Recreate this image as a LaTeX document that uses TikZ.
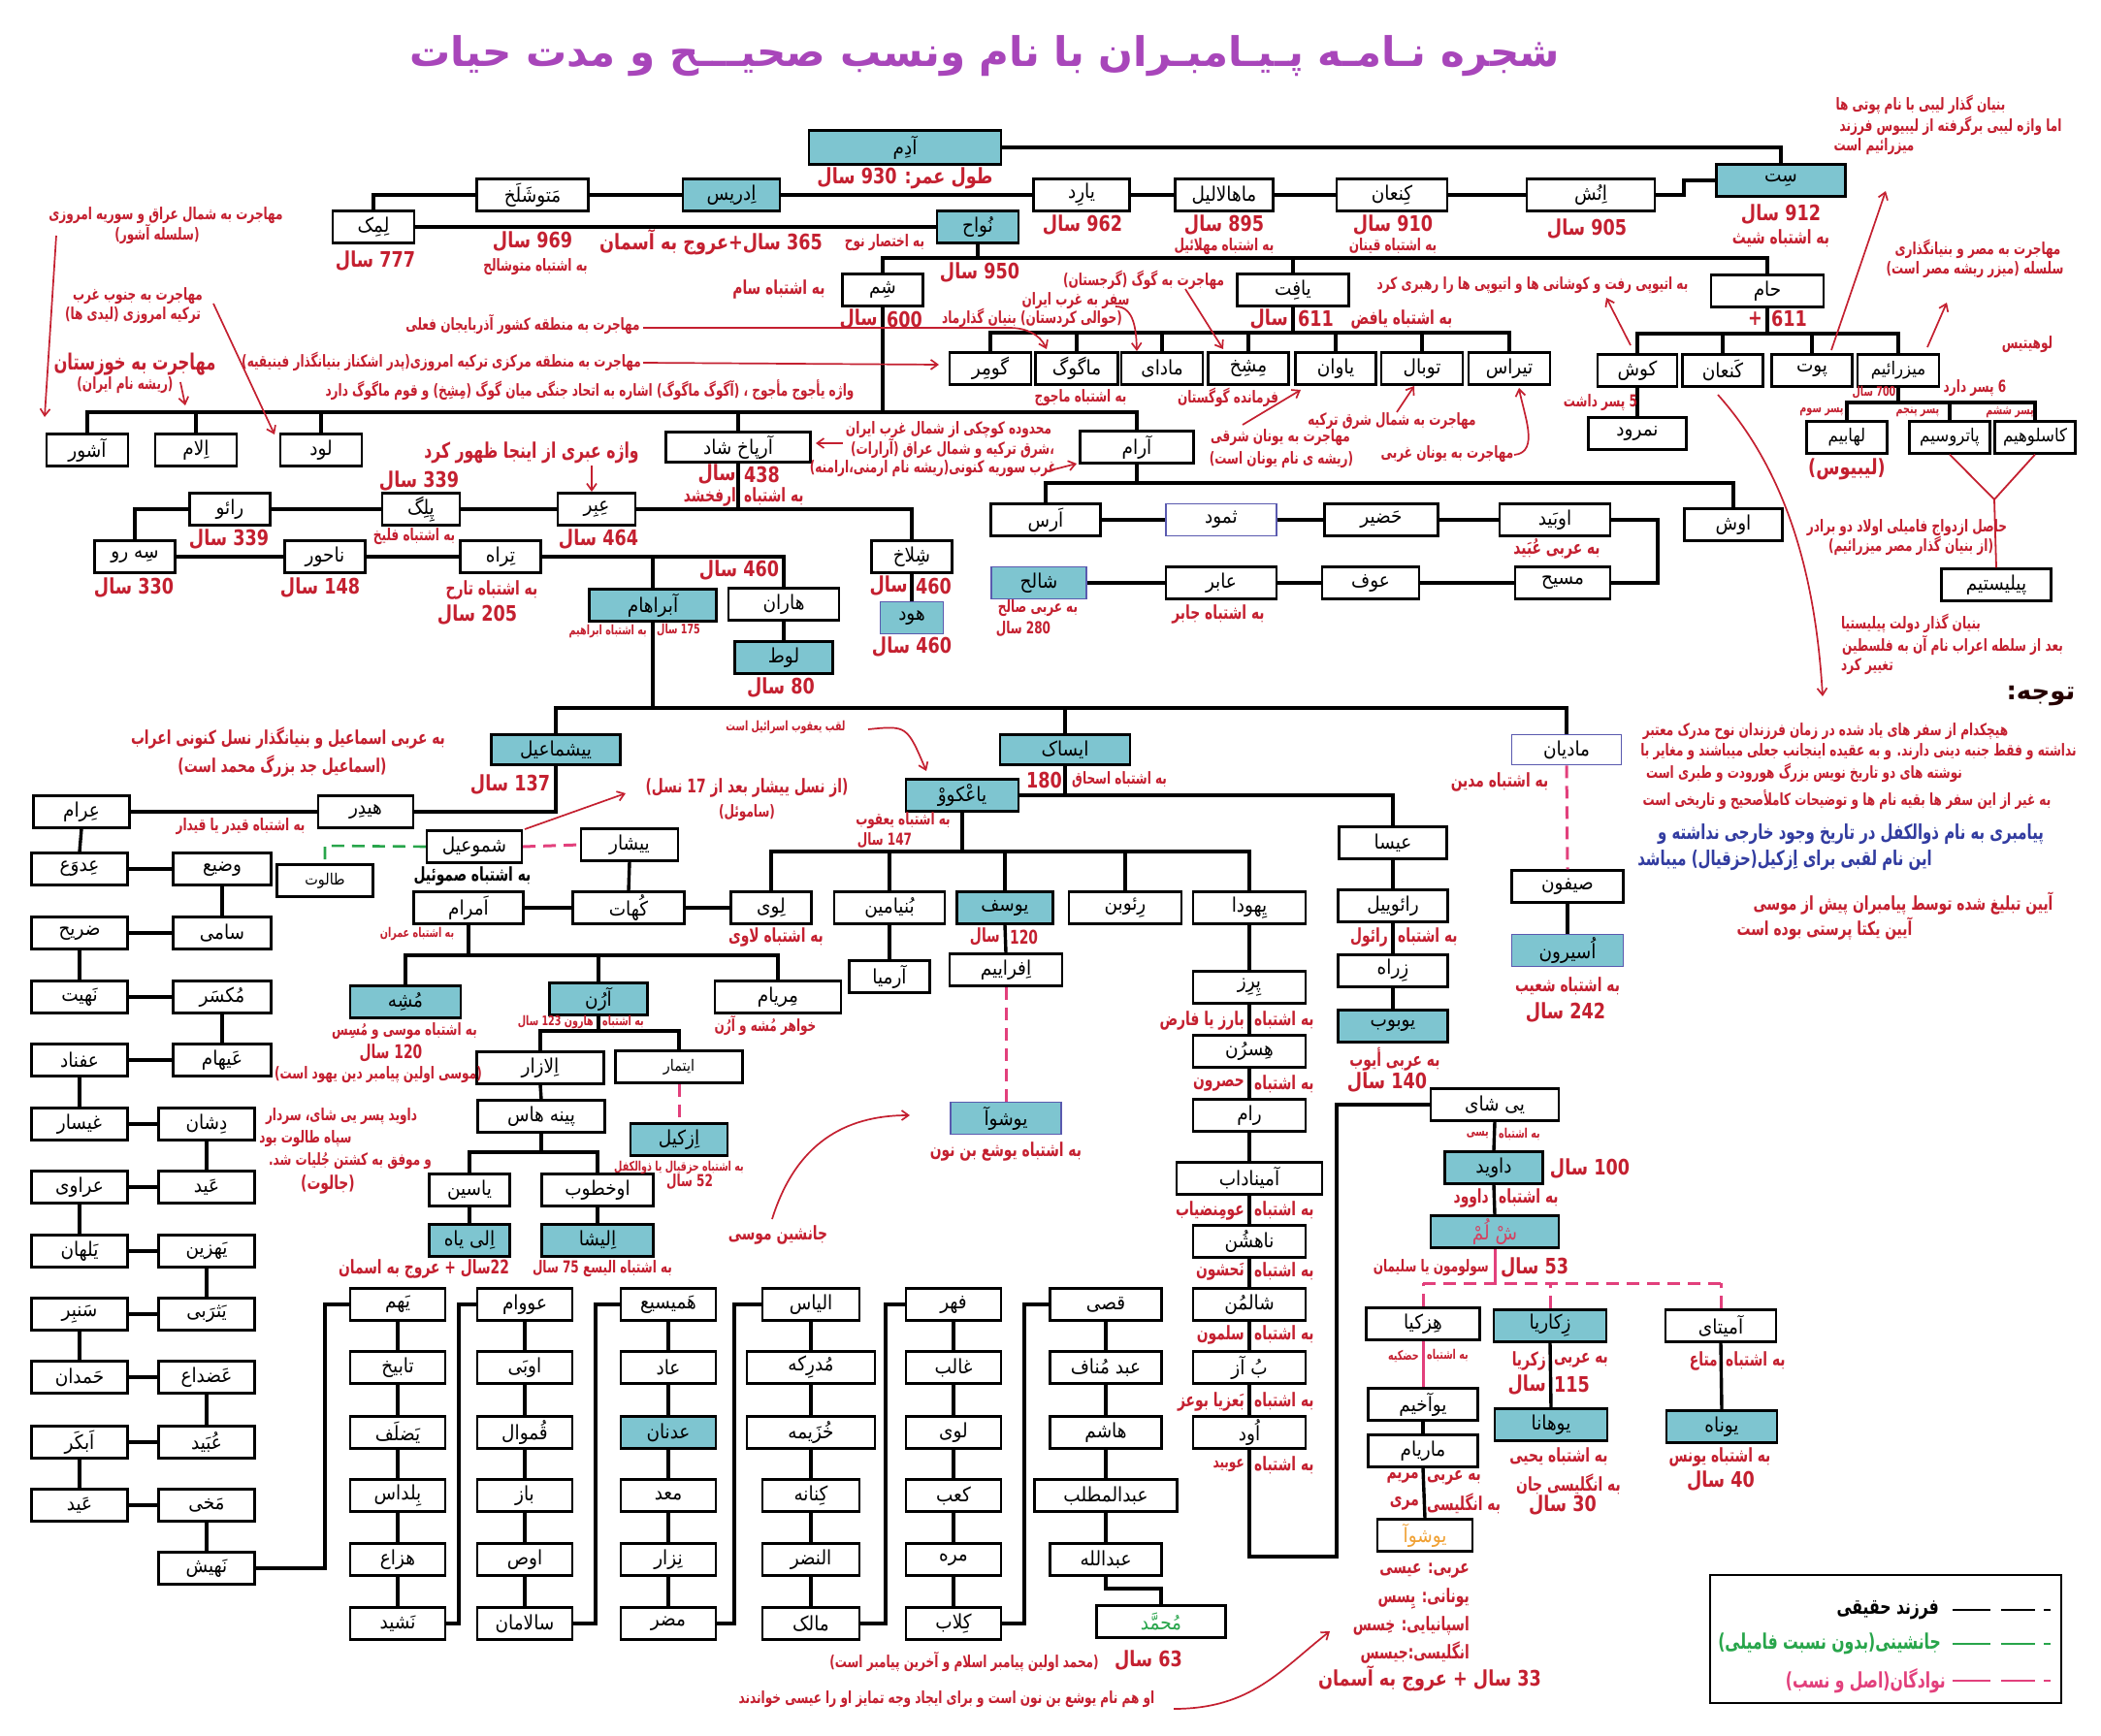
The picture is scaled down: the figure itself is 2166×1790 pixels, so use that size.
\documentclass[tikz,border=0pt]{standalone}
\usepackage{fontspec}
\usetikzlibrary{arrows.meta}
\TeXXeTstate=1
\newfontfamily\arabicfont[Script=Arabic]{DejaVu Sans}
\newfontfamily\arabicnarrow[Script=Arabic,FakeStretch=0.8]{DejaVu Sans}
\newfontfamily\arabictight[Script=Arabic,FakeStretch=0.71]{DejaVu Sans}
\newfontfamily\arabicname[Script=Arabic,FakeStretch=0.9]{DejaVu Sans}
\definecolor{tealc}{RGB}{126,197,208}
\definecolor{annred}{RGB}{196,32,48}
\definecolor{titlec}{RGB}{168,70,186}
\definecolor{bluet}{RGB}{50,60,160}
\definecolor{bluebd}{RGB}{90,90,175}
\definecolor{pinkc}{RGB}{226,64,124}
\definecolor{greenc}{RGB}{40,165,75}
\definecolor{orangec}{RGB}{240,160,50}
\definecolor{shlc}{RGB}{214,64,96}
\newcommand\fN{\arabicname\fontsize{20.5}{23}\selectfont}
\newcommand\fNs{\arabicname\fontsize{16}{18}\selectfont}
\newcommand\fNt{\arabicname\fontsize{18.5}{20}\selectfont}
\newcommand\fS{\arabictight\bfseries\fontsize{17}{19}\selectfont}
\newcommand\fM{\arabictight\bfseries\fontsize{19.5}{21}\selectfont}
\newcommand\fB{\arabicnarrow\bfseries\fontsize{22}{24}\selectfont}
\newcommand\fT{\arabictight\bfseries\fontsize{13.5}{15}\selectfont}
\newcommand\fTitle{\arabicfont\bfseries\fontsize{42}{48}\selectfont}
\newcommand\bxx[6][bx]{\node[#1,minimum width=#5pt] (#2) at (#3,#4) {#6};}
\newcommand\lbl[4]{\node[#1] (#2) at (#3) {#4};}
\tikzset{
 bx/.style={draw=black,line width=2.2pt,fill=white,minimum height=33pt,inner sep=0pt,font=\fN},
 tl/.style={bx,fill=tealc},
 bb/.style={bx,draw=bluebd,line width=1.6pt},
 tb/.style={bx,fill=tealc,draw=bluebd,line width=1.8pt},
 aS/.style={text=annred,inner sep=0pt,font=\fS},
 aM/.style={text=annred,inner sep=0pt,font=\fM},
 aB/.style={text=annred,inner sep=0pt,font=\fB},
 aT/.style={text=annred,inner sep=0pt,font=\fT},
 link/.style={line width=3.4pt,line join=miter},
 rarr/.style={draw=annred,line width=1.7pt,-{Straight Barb[length=7pt,width=10pt]}},
 rline/.style={draw=annred,line width=1.8pt},
 pdash/.style={draw=pinkc,line width=3pt,dash pattern=on 13pt off 8pt},
 gdash/.style={draw=greenc,line width=2.6pt,dash pattern=on 13pt off 8pt},
}
\begin{document}
\begin{tikzpicture}[x=1pt,y=-1pt]
\fill[white] (0,0) rectangle (2166,1790);
\useasboundingbox (0,0) rectangle (2166,1790);
\node[font=\fTitle,text=titlec,inner sep=0pt] (title) at (1015,58) {\beginR شجره نـامـه پـیـامبـران با نام ونسب صحیـــح و مدت حیات\endR};
% ---------- boxes top ----------
\bxx[tl,minimum height=35pt]{adam}{933}{152}{198}{\beginR آدِم\endR}
\bxx[tl]{idris}{754}{201}{100}{\beginR اِدریس\endR}
\bxx{mtsh}{549}{201}{115}{\beginR مَتوشَلَخ\endR}
\bxx{lamak}{385}{234}{84}{\beginR لِمِک\endR}
\bxx{yard}{1115}{201}{99}{\beginR یارِد\endR}
\bxx{mahal}{1262}{201}{101}{\beginR ماهالالیل\endR}
\bxx{kenan}{1435}{201}{114}{\beginR کِنعان\endR}
\bxx{enosh}{1640}{201}{132}{\beginR اِنُش\endR}
\bxx[tl]{seth}{1836}{186}{133}{\beginR سِت\endR}
\bxx[tl]{noah}{1008}{234}{84}{\beginR نُواح\endR}
\bxx{shem}{910}{299}{83}{\beginR شِم\endR}
\bxx{yafeth}{1333}{299}{115}{\beginR یافِت\endR}
\bxx{ham}{1822}{300}{116}{\beginR حام\endR}
\bxx{gomer}{1021}{380}{84}{\beginR گومِر\endR}
\bxx{magog}{1110}{380}{85}{\beginR ماگوگ\endR}
\bxx{madai}{1198}{380}{84}{\beginR مادای\endR}
\bxx{meshekh}{1287}{380}{83}{\beginR مِشِخ\endR}
\bxx{yavan}{1377}{380}{83}{\beginR یاوان\endR}
\bxx{tubal}{1466}{380}{84}{\beginR توبال\endR}
\bxx{tiras}{1556}{380}{84}{\beginR تیراس\endR}
\bxx{kush}{1688}{382}{82}{\beginR کوش\endR}
\bxx{canaan}{1776}{382}{83}{\beginR کَنعان\endR}
\bxx{put}{1868}{382}{83}{\beginR پوت\endR}
\bxx[bx,font=\fNt]{mizraim}{1957}{382}{84}{\beginR میزرائیم\endR}
\bxx{nimrod}{1688}{447}{101}{\beginR نمرود\endR}
\bxx[bx,font=\fNt]{lehabim}{1904}{451}{83}{\beginR لهابیم\endR}
\bxx[bx,font=\fNt]{patrusim}{2010}{451}{83}{\beginR پاتروسیم\endR}
\bxx[bx,font=\fNt]{kasluhim}{2098}{451}{83}{\beginR کاسلوهیم\endR}
\bxx{pelishtim}{2058}{603}{113}{\beginR پیلیستیم\endR}
\bxx{ashur}{90}{464}{84}{\beginR آشور\endR}
\bxx{elam}{202}{464}{84}{\beginR اِلام\endR}
\bxx{lud}{331}{464}{84}{\beginR لود\endR}
\bxx[bx,minimum height=31pt]{arpax}{761}{461}{149}{\beginR آرپاخ شاد\endR}
\bxx{aram}{1172}{461}{117}{\beginR آرام\endR}
\bxx{reu}{237}{525}{83}{\beginR رائو\endR}
\bxx{peleg}{434}{525}{80}{\beginR پِلِگ\endR}
\bxx{eber}{615}{525}{80}{\beginR عِبِر\endR}
\bxx{sero}{139}{574}{83}{\beginR سِه رو\endR}
\bxx{nahor}{335}{574}{83}{\beginR ناحور\endR}
\bxx{terah}{516}{574}{83}{\beginR تِراه\endR}
\bxx{shelah}{940}{574}{83}{\beginR شِلاخ\endR}
\bxx[tb]{hud}{940}{637}{65}{\beginR هود\endR}
\bxx[tl]{abraham}{673}{624}{131}{\beginR آبراهام\endR}
\bxx{haran}{808}{623}{114}{\beginR هاران\endR}
\bxx[tl]{lot}{808}{678}{101}{\beginR لوط\endR}
\bxx{aras}{1078}{536}{113}{\beginR اَرس\endR}
\bxx[bb]{thamud}{1259}{536}{114}{\beginR ثمود\endR}
\bxx{hazir}{1424}{536}{117}{\beginR حَضیر\endR}
\bxx{obid}{1603}{536}{114}{\beginR اوبَید\endR}
\bxx{oush}{1787}{541}{101}{\beginR اوش\endR}
\bxx[tb]{shaleh}{1071}{601}{98}{\beginR شالح\endR}
\bxx{abir}{1259}{601}{114}{\beginR عابر\endR}
\bxx{auf}{1413}{601}{100}{\beginR عوف\endR}
\bxx{masih}{1611}{601}{98}{\beginR مسیح\endR}
% ---------- middle ----------
\bxx[tl,minimum height=31pt]{ishmael}{573}{773}{133}{\beginR ییشماعیل\endR}
\bxx[tl,minimum height=31pt]{isaac}{1098}{773}{134}{\beginR ایساک\endR}
\bxx[bb,minimum height=31pt]{madian}{1615}{773}{113}{\beginR مادیان\endR}
\bxx{heydar}{377}{837}{98}{\beginR هیدِر\endR}
\bxx{aram2}{84}{837}{99}{\beginR عِرام\endR}
\bxx{shmuel}{489}{873}{98}{\beginR شموعیل\endR}
\bxx{yishar}{649}{871}{100}{\beginR ییشار\endR}
\bxx[bx,font=\fNs]{taloot}{335}{908}{99}{\beginR طالوت\endR}
\bxx[tl]{yakov}{992}{820}{116}{\beginR یاعْکووْ\endR}
\bxx{esau}{1436}{869}{111}{\beginR عیسا\endR}
\bxx{levi}{795}{936}{83}{\beginR لِوی\endR}
\bxx{benyamin}{917}{936}{114}{\beginR بُنیامین\endR}
\bxx[tl]{yusuf}{1036}{936}{99}{\beginR یوسف\endR}
\bxx{reuben}{1160}{936}{116}{\beginR رِئوبن\endR}
\bxx{yahuda}{1288}{936}{116}{\beginR یِهودا\endR}
\bxx{amram}{483}{936}{113}{\beginR اَمرام\endR}
\bxx{kohath}{648}{936}{115}{\beginR کُهات\endR}
\bxx{armia}{917}{1007}{83}{\beginR آرمیا\endR}
\bxx{efraim}{1037}{1000}{116}{\beginR اِفراییم\endR}
\bxx{miriam}{802}{1028}{130}{\beginR مِریام\endR}
\bxx[tl]{moshe}{418}{1033}{114}{\beginR مُشِه\endR}
\bxx[tl]{aaron}{617}{1030}{101}{\beginR آرُن\endR}
\bxx{elazar}{557}{1101}{131}{\beginR اِلازار\endR}
\bxx[bx,font=\fNs]{itamar}{700}{1100}{131}{\beginR ایتمار\endR}
\bxx[tl]{ezekiel}{700}{1175}{100}{\beginR اِزکیل\endR}
\bxx{pinehas}{558}{1151}{131}{\beginR پینه هاس\endR}
\bxx{yasin}{484}{1227}{83}{\beginR یاسین\endR}
\bxx{okhtub}{616}{1227}{115}{\beginR اوخطوب\endR}
\bxx[tl]{eliyah}{484}{1279}{83}{\beginR اِلی یاه\endR}
\bxx[tl]{elisha}{616}{1279}{115}{\beginR اِلیشا\endR}
\bxx[tb]{joshua}{1037}{1153}{114}{\beginR یوشوآ\endR}
\bxx{perez}{1288}{1018}{116}{\beginR پِرِز\endR}
\bxx{hesron}{1288}{1084}{116}{\beginR هِسرُن\endR}
\bxx{ram}{1288}{1150}{116}{\beginR رام\endR}
\bxx{aminadab}{1288}{1215}{150}{\beginR آمیناداب\endR}
\bxx{nahshon}{1288}{1280}{116}{\beginR ناهشُن\endR}
\bxx{shalmon}{1288}{1345}{116}{\beginR شالمُن\endR}
\bxx{boaz}{1288}{1410}{116}{\beginR بُ آز\endR}
\bxx{oved}{1288}{1477}{116}{\beginR اُود\endR}
\bxx{reuel}{1436}{934}{113}{\beginR رائوییل\endR}
\bxx{zerah}{1436}{1001}{113}{\beginR زِراه\endR}
\bxx[tl]{yobab}{1436}{1058}{113}{\beginR یوبوب\endR}
\bxx{seifun}{1616}{914}{115}{\beginR صیفون\endR}
\bxx[tb]{asirun}{1616}{980}{115}{\beginR اُسیرون\endR}
\bxx{yishai}{1541}{1139}{132}{\beginR یی شای\endR}
\bxx[tl]{david}{1540}{1204}{101}{\beginR داوید\endR}
\bxx[tl,text=shlc]{shlomo}{1541}{1270}{132}{\beginR شْ لُمْ\endR}
\bxx{hezkia}{1467}{1365}{117}{\beginR هِزکیا\endR}
\bxx[tl]{zakaria}{1598}{1367}{116}{\beginR زِکاریا\endR}
\bxx{amitai}{1774}{1367}{114}{\beginR آمیتای\endR}
\bxx{yoakhim}{1467}{1448}{113}{\beginR یوآخیم\endR}
\bxx{mariam}{1467}{1496}{113}{\beginR ماریام\endR}
\bxx[bx,text=orangec]{jesus}{1469}{1583}{98}{\beginR یوشوآ\endR}
\bxx[tl]{yohana}{1599}{1469}{116}{\beginR یوهانا\endR}
\bxx[tl]{yonah}{1775}{1471}{114}{\beginR یوناه\endR}
% ---------- left grid ----------
\bxx{adwa}{82}{896}{99}{\beginR عِدوَع\endR}
\bxx{wazi}{229}{896}{101}{\beginR وضیع\endR}
\bxx{darih}{82}{962}{99}{\beginR ضریح\endR}
\bxx{sami}{229}{962}{101}{\beginR سامی\endR}
\bxx{nahit}{82}{1028}{99}{\beginR نَهیت\endR}
\bxx{maksar}{229}{1028}{101}{\beginR مُکسَر\endR}
\bxx{afnad}{82}{1093}{99}{\beginR عفناد\endR}
\bxx{ayham}{229}{1093}{101}{\beginR عَیهام\endR}
\bxx{ghaysar}{82}{1159}{99}{\beginR غیسار\endR}
\bxx{dashan}{213}{1159}{99}{\beginR دِشان\endR}
\bxx{arawi}{82}{1224}{99}{\beginR عراوی\endR}
\bxx{ayd}{213}{1224}{99}{\beginR عَید\endR}
\bxx{yalhan}{82}{1290}{99}{\beginR یَلهان\endR}
\bxx{yahzin}{213}{1290}{99}{\beginR یَهزین\endR}
\bxx{sanbar}{82}{1355}{99}{\beginR سَنبِر\endR}
\bxx{yathrabi}{213}{1355}{99}{\beginR یَثرَبی\endR}
\bxx{hamdan}{82}{1420}{99}{\beginR حَمدان\endR}
\bxx{adhda}{213}{1420}{99}{\beginR عَضداع\endR}
\bxx{abkar}{82}{1487}{99}{\beginR اَبکَر\endR}
\bxx{obayd}{213}{1487}{99}{\beginR عُبَید\endR}
\bxx{ayd2}{82}{1552}{99}{\beginR عَید\endR}
\bxx{makhi}{213}{1552}{99}{\beginR مَخی\endR}
\bxx{nahish}{213}{1617}{99}{\beginR نَهیش\endR}
% ---------- bottom columns ----------
\bxx{yaham}{410}{1345}{98}{\beginR یَهم\endR}
\bxx{tabikh}{410}{1410}{98}{\beginR تابیخ\endR}
\bxx{yadlof}{410}{1477}{98}{\beginR یَضلَف\endR}
\bxx{baldas}{410}{1542}{98}{\beginR بِلداس\endR}
\bxx{hazza}{410}{1608}{98}{\beginR هزاع\endR}
\bxx{nashid}{410}{1674}{98}{\beginR نَشید\endR}
\bxx{awwam}{541}{1345}{98}{\beginR عووام\endR}
\bxx{ubay}{541}{1410}{98}{\beginR اوبَی\endR}
\bxx{qamwal}{541}{1477}{98}{\beginR قُموال\endR}
\bxx{baz}{541}{1542}{98}{\beginR باز\endR}
\bxx{aws}{541}{1608}{98}{\beginR اوص\endR}
\bxx{salaman}{541}{1674}{98}{\beginR سالامان\endR}
\bxx{hamisa}{689}{1345}{98}{\beginR هَمیسیع\endR}
\bxx{aad}{689}{1410}{98}{\beginR عاد\endR}
\bxx[tl]{adnan}{689}{1477}{98}{\beginR عدنان\endR}
\bxx{maad}{689}{1542}{98}{\beginR معد\endR}
\bxx{nizar}{689}{1608}{98}{\beginR نِزار\endR}
\bxx{mudar}{689}{1674}{98}{\beginR مضر\endR}
\bxx{ilyas}{836}{1345}{100}{\beginR الیاس\endR}
\bxx{mudrika}{836}{1410}{132}{\beginR مُدرِکه\endR}
\bxx{khuzayma}{836}{1477}{132}{\beginR خُزَیمه\endR}
\bxx{kinana}{836}{1542}{100}{\beginR کِنانه\endR}
\bxx{nadr}{836}{1608}{100}{\beginR النضر\endR}
\bxx{malik}{836}{1674}{100}{\beginR مالک\endR}
\bxx{fihr}{983}{1345}{98}{\beginR فهر\endR}
\bxx{ghalib}{983}{1410}{98}{\beginR غالب\endR}
\bxx{luay}{983}{1477}{98}{\beginR لوی\endR}
\bxx{kab}{983}{1542}{98}{\beginR کعب\endR}
\bxx{murra}{983}{1608}{98}{\beginR مره\endR}
\bxx{kilab}{983}{1674}{98}{\beginR کِلاب\endR}
\bxx{qusay}{1140}{1345}{115}{\beginR قصی\endR}
\bxx{abdmanaf}{1140}{1410}{115}{\beginR عبد مُناف\endR}
\bxx{hashim}{1140}{1477}{115}{\beginR هاشم\endR}
\bxx{abdmuttalib}{1140}{1542}{147}{\beginR عبدالمطلب\endR}
\bxx{abdullah}{1140}{1608}{115}{\beginR عبدالله\endR}
\bxx[bx,line width=3.6pt,text=greenc]{mohammad}{1197}{1672}{133}{\beginR مُحمَّد\endR}
% ---------- connectors ----------
\begin{scope}[link]
\draw (adam.east) -| (seth.north);
\draw (lamak.north) |- (mtsh.west);
\draw (mtsh.east) -- (idris.west);
\draw (idris.east) -- (yard.west);
\draw (yard.east) -- (mahal.west);
\draw (mahal.east) -- (kenan.west);
\draw (kenan.east) -- (enosh.west);
\draw (enosh.east) -- (1736,201) |- (seth.west);
\draw (lamak.east) -- (noah.west);
\draw (noah.south) -- (1008,266);
\draw (shem.north) |- (1822,266) -- (ham.north);
\draw (yafeth.north) -- (1333,266);
\draw (shem.south) -- (910,425);
\draw (ashur.north) |- (1172,425) -- (aram.north);
\draw (elam.north) -- (202,425);
\draw (lud.north) -- (331,425);
\draw (arpax.north) -- (761,425);
\draw (yafeth.south) -- (1333,343);
\draw (gomer.north) |- (1556,343) -- (tiras.north);
\foreach \n/\x in {magog/1110,madai/1198,meshekh/1287,yavan/1377,tubal/1466} \draw (\n.north) -- (\x,343);
\draw (ham.south) -- (1822,344);
\draw (kush.north) |- (1957,344) -- (mizraim.north);
\draw (canaan.north) -- (1776,344);
\draw (put.north) -- (1868,344);
\draw (kush.south) -- (nimrod.north);
\draw (mizraim.south) -- (1957,415);
\draw (lehabim.north) |- (2098,415) -- (kasluhim.north);
\draw (patrusim.north) -- (2010,415);
\draw (sero.north) |- (reu.west);
\draw (reu.east) -- (peleg.west);
\draw (peleg.east) -- (eber.west);
\draw (eber.east) -| (shelah.north);
\draw (arpax.south) -- (761,525);
\draw (sero.east) -- (nahor.west);
\draw (nahor.east) -- (terah.west);
\draw (terah.east) -| (haran.north);
\draw (abraham.north) -- (673,574);
\draw (shelah.south) -- (hud.north);
\draw (haran.south) -- (lot.north);
\draw (aram.south) -- (1172,498);
\draw (aras.north) |- (1787,498) -- (oush.north);
\draw (aras.east) -- (thamud.west);
\draw (thamud.east) -- (hazir.west);
\draw (hazir.east) -- (obid.west);
\draw (obid.east) -- (1709,536) |- (masih.east);
\draw (masih.west) -- (auf.east);
\draw (auf.west) -- (abir.east);
\draw (abir.west) -- (shaleh.east);
\draw (abraham.south) -- (673,730);
\draw (ishmael.north) |- (1615,730) -- (madian.north);
\draw (isaac.north) -- (1098,730);
\draw (ishmael.south) |- (heydar.east);
\draw (heydar.west) -- (aram2.east);
\draw (aram2.south) -- (adwa.north);
\foreach \a/\b in {adwa/wazi,darih/sami,nahit/maksar,afnad/ayham,ghaysar/dashan,arawi/ayd,yalhan/yahzin,sanbar/yathrabi,hamdan/adhda,abkar/obayd,ayd2/makhi} \draw (\a.east) -- (\b.west);
\foreach \a/\b in {wazi/sami,darih/nahit,maksar/ayham,afnad/ghaysar,dashan/ayd,arawi/yalhan,yahzin/yathrabi,sanbar/hamdan,adhda/obayd,abkar/ayd2,makhi/nahish} \draw (\a.south) -- (\b.north);
\draw (nahish.east) -- (335,1617) |- (yaham.west);
\draw (nashid.east) -- (473,1674) |- (awwam.west);
\draw (salaman.east) -- (614,1674) |- (hamisa.west);
\draw (mudar.east) -- (757,1674) |- (ilyas.west);
\draw (malik.east) -- (913,1674) |- (fihr.west);
\draw (kilab.east) -- (1056,1674) |- (qusay.west);
\foreach \a/\b in {yaham/tabikh,tabikh/yadlof,yadlof/baldas,baldas/hazza,hazza/nashid,awwam/ubay,ubay/qamwal,qamwal/baz,baz/aws,aws/salaman,hamisa/aad,aad/adnan,adnan/maad,maad/nizar,nizar/mudar,ilyas/mudrika,mudrika/khuzayma,khuzayma/kinana,kinana/nadr,nadr/malik,fihr/ghalib,ghalib/luay,luay/kab,kab/murra,murra/kilab,qusay/abdmanaf,abdmanaf/hashim,hashim/abdmuttalib,abdmuttalib/abdullah} \draw (\a.south) -- (\b.north);
\draw (abdullah.south) -- (1140,1638) -| (mohammad.north);
\draw (isaac.south) -- (1098,820);
\draw (yakov.east) -| (esau.north);
\draw (yakov.south) -- (992,878);
\draw (levi.north) |- (1288,878) -- (yahuda.north);
\draw (benyamin.north) -- (917,878);
\draw (yusuf.north) -- (1036,878);
\draw (reuben.north) -- (1160,878);
\draw (benyamin.south) -- (armia.north);
\draw (yusuf.south) -- (efraim.north);
\foreach \a/\b in {yahuda/perez,perez/hesron,hesron/ram,ram/aminadab,aminadab/nahshon,nahshon/shalmon,shalmon/boaz,boaz/oved,esau/reuel,reuel/zerah,zerah/yobab,seifun/asirun,yishai/david,david/shlomo,yoakhim/mariam,mariam/jesus,zakaria/yohana,amitai/yonah,elazar/pinehas,yasin/eliyah,okhtub/elisha} \draw (\a.south) -- (\b.north);
\draw (oved.south) -- (1288,1605) -- (1378,1605) |- (yishai.west);
\draw (levi.west) -- (kohath.east);
\draw (kohath.west) -- (amram.east);
\draw (yishar.south) -- (kohath.north);
\draw (amram.south) -- (483,985);
\draw (moshe.north) |- (802,985) -- (miriam.north);
\draw (aaron.north) -- (617,985);
\draw (aaron.south) -- (617,1063);
\draw (elazar.north) |- (700,1063) -- (itamar.north);
\draw (pinehas.south) -- (558,1188);
\draw (yasin.north) |- (616,1188) -- (okhtub.north);
\end{scope}
\draw[pdash] (madian.south) -- (seifun.north);
\draw[pdash] (efraim.south) -- (joshua.north);
\draw[pdash] (itamar.south) -- (ezekiel.north);
\draw[pdash] (shmuel.east) -- (yishar.west);
\draw[gdash] (shmuel.west) -- (335,872) -- (taloot.north);
\draw[draw=pinkc,line width=3pt] (shlomo.south) -- (1541,1323);
\draw[pdash] (1467,1323) -- (1774,1323);
\draw[pdash] (hezkia.north) -- (1467,1323);
\draw[pdash] (zakaria.north) -- (1598,1323);
\draw[pdash] (amitai.north) -- (1774,1323);
\draw[draw=pinkc,line width=3pt] (hezkia.south) -- (yoakhim.north);
\draw[rline] (patrusim.south) -- (2056,515) -- (kasluhim.south);
\draw[rline] (2056,515) -- (pelishtim.north);
% ---------- annotations ----------
\lbl{aB}{l1}{933,184}{\beginR طول عمر: 930 سال\endR}
\lbl{aB}{l2}{387,269}{\beginR 777 سال\endR}
\lbl{aB}{l3}{549,249}{\beginR 969 سال\endR}
\lbl{aS}{l4}{552,275}{\beginR به اشتباه متوشالح\endR}
\lbl{aB}{l5}{733,250}{\beginR 365 سال+عروج به آسمان\endR}
\lbl{aS}{l6}{912,250}{\beginR به اختصار نوح\endR}
\lbl{aB}{l7}{1116,232}{\beginR 962 سال\endR}
\lbl{aB}{l8}{1262,232}{\beginR 895 سال\endR}
\lbl{aS}{l9}{1262,254}{\beginR به اشتباه مهلائیل\endR}
\lbl{aB}{l10}{1436,232}{\beginR 910 سال\endR}
\lbl{aS}{l11}{1436,254}{\beginR به اشتباه قینان\endR}
\lbl{aB}{l12}{1636,236}{\beginR 905 سال\endR}
\lbl{aB}{l13}{1836,221}{\beginR 912 سال\endR}
\lbl{aM}{l14}{1836,246}{\beginR به اشتباه شیث\endR}
\lbl{aB}{l15}{1010,281}{\beginR 950 سال\endR}
\lbl{aM}{l16}{803,298}{\beginR به اشتباه سام\endR}
\lbl{aB,anchor=west}{l17}{914,329}{600}
\lbl{aB,anchor=east}{l18}{905,329}{\beginR سال\endR}
\lbl{aB,anchor=west}{l19}{1338,329}{611}
\lbl{aB,anchor=east}{l20}{1328,329}{\beginR سال\endR}
\lbl{aM}{l21}{1445,329}{\beginR به اشتباه یافض\endR}
\lbl{aB,anchor=west}{l22}{1826,329}{611}
\lbl{aB,anchor=east}{l23}{1817,329}{+}
\lbl{aS}{l24}{1580,294}{\beginR به اتیوپی رفت و کوشانی ها و اتیوپی ها را رهبری کرد\endR}
\lbl{aS}{l25}{1179,289}{\beginR مهاجرت به گوگ (گرجستان)\endR}
\lbl{aS}{l26}{1109,310}{\beginR سفر به غرب ایران\endR}
\lbl{aS}{l27}{1064,328}{\beginR (حوالی کردستان) بنیان گذارماد\endR}
\lbl{aS}{l28}{1980,108}{\beginR بنیان گذار لیبی با نام پوتی ها\endR}
\lbl{aS}{l29}{2011,130}{\beginR اما واژه لیبی برگرفته از لیبیوس فرزند\endR}
\lbl{aS}{l30}{1932,151}{\beginR میزرائیم است\endR}
\lbl{aS}{l31}{2039,257}{\beginR مهاجرت به مصر و بنیانگذاری\endR}
\lbl{aS}{l32}{2036,278}{\beginR سلسله (میزر ریشه مصر است)\endR}
\lbl{aS}{l33}{2090,355}{\beginR لوهیتیس\endR}
\lbl{aS}{l34}{2036,400}{\beginR 6 پسر دارد\endR}
\lbl{aT}{l35}{1932,405}{\beginR 700 سال\endR}
\lbl{aS}{l36}{1650,415}{\beginR 5 پسر داشت\endR}
\lbl{aT}{l37}{1878,425}{\beginR پسر سوم\endR}
\lbl{aT}{l38}{1977,425}{\beginR پسر پنجم\endR}
\lbl{aT}{l39}{2072,425}{\beginR پسر ششم\endR}
\lbl{aB}{l40}{1904,484}{\beginR (لیبیوس)\endR}
\lbl{aS}{l41}{1966,544}{\beginR حاصل ازدواج فامیلی اولاد دو برادر\endR}
\lbl{aS}{l42}{1970,563}{\beginR (از بنیان گذار مصر میزرائیم)\endR}
\lbl{aS}{l43}{1970,643}{\beginR بنیان گذار دولت پیلیستیا\endR}
\lbl{aS}{l44}{2013,665}{\beginR بعد از سلطه اعراب نام آن به فلسطین\endR}
\lbl{aS}{l45}{1925,687}{\beginR تغییر کرد\endR}
\lbl{aS}{l46}{171,222}{\beginR مهاجرت به شمال عراق و سوریه امروزی\endR}
\lbl{aS}{l47}{162,241}{\beginR (سلسله آشور)\endR}
\lbl{aS}{l48}{142,305}{\beginR مهاجرت به جنوب غرب\endR}
\lbl{aS}{l49}{137,325}{\beginR ترکیه امروزی (لیدی ها)\endR}
\lbl{aB,font=\arabictight\bfseries\fontsize{23}{25}\selectfont}{l50}{139,376}{\beginR مهاجرت به خوزستان\endR}
\lbl{aS}{l51}{129,397}{\beginR (ریشه نام ایران)\endR}
\lbl{aS}{l52}{539,334}{\beginR مهاجرت به منطقه کشور آذربایجان فعلی\endR}
\lbl{aS}{l53}{455,373}{\beginR مهاجرت به منطقه مرکزی ترکیه امروزی(پدر اشکناز بنیانگذار فینیقیه)\endR}
\lbl{aS}{l54}{608,402}{\beginR واژه یأجوج مأجوج ، (آگوگ ماگوگ) اشاره به اتحاد جنگی میان گوگ (مِشِخ) و قوم ماگوگ دارد\endR}
\lbl{aS}{l55}{1114,410}{\beginR به اشتباه ماجوج\endR}
\lbl{aS}{l56}{1266,410}{\beginR فرمانده گوگستان\endR}
\lbl{aS}{l57}{1435,434}{\beginR مهاجرت به شمال شرق ترکیه\endR}
\lbl{aS}{l58}{1320,451}{\beginR مهاجرت به یونان شرقی\endR}
\lbl{aS}{l59}{1321,474}{\beginR (ریشه ی نام یونان است)\endR}
\lbl{aS}{l60}{1492,468}{\beginR مهاجرت به یونان غربی\endR}
\lbl{aS}{l61}{978,443}{\beginR محدوده کوچکی از شمال غرب ایران\endR}
\lbl{aS}{l62}{982,462}{\beginR ،شرق ترکیه و شمال عراق (آرارات)\endR}
\lbl{aS}{l63}{962,483}{\beginR غرب سوریه کنونی(ریشه نام ارمنی،ارامنه)\endR}
\lbl{aM,font=\arabictight\bfseries\fontsize{22}{24}\selectfont}{l64}{548,467}{\beginR واژه عبری از اینجا ظهور کرد\endR}
\lbl{aB}{l65}{432,496}{\beginR 339 سال\endR}
\lbl{aB,anchor=west}{l66}{767,489}{438}
\lbl{aB,anchor=east}{l67}{759,489}{\beginR سال\endR}
\lbl{aM,anchor=west}{l68}{767,512}{\beginR به اشتباه\endR}
\lbl{aM,anchor=east}{l69}{759,512}{\beginR ارفخشد\endR}
\lbl{aB}{l70}{236,556}{\beginR 339 سال\endR}
\lbl{aS}{l71}{427,553}{\beginR به اشتباه فلیخ\endR}
\lbl{aB}{l72}{617,556}{\beginR 464 سال\endR}
\lbl{aB}{l73}{138,606}{\beginR 330 سال\endR}
\lbl{aB}{l74}{330,606}{\beginR 148 سال\endR}
\lbl{aM}{l75}{507,608}{\beginR به اشتباه تارح\endR}
\lbl{aB}{l76}{492,634}{\beginR 205 سال\endR}
\lbl{aB}{l77}{762,588}{\beginR 460 سال\endR}
\lbl{aB,anchor=west}{l78}{944,604}{460}
\lbl{aB,anchor=east}{l79}{936,604}{\beginR سال\endR}
\lbl{aB}{l80}{940,667}{\beginR 460 سال\endR}
\lbl{aT,anchor=west}{l81}{677,650}{\beginR 175 سال\endR}
\lbl{aT,anchor=east}{l82}{667,651}{\beginR به اشتباه ابراهیم\endR}
\lbl{aB}{l83}{805,709}{\beginR 80 سال\endR}
\lbl{aS}{l84}{1070,627}{\beginR به عربی صالح\endR}
\lbl{aS}{l85}{1055,649}{\beginR 280 سال\endR}
\lbl{aM}{l86}{1256,633}{\beginR به اشتباه جابر\endR}
\lbl{aM}{l87}{1605,566}{\beginR به عربی عُبَید\endR}
\lbl{aM}{l88}{297,761}{\beginR به عربی اسماعیل و بنیانگذار نسل کنونی اعراب\endR}
\lbl{aM}{l89}{291,790}{\beginR (اسماعیل جد بزرگ محمد است)\endR}
\lbl{aB}{l90}{526,809}{\beginR 137 سال\endR}
\lbl{aS}{l91}{248,852}{\beginR به اشتباه قیدر یا قیدار\endR}
\lbl{aM}{l92}{770,812}{\beginR (از نسل ییشار بعد از 17 نسل)\endR}
\lbl{aS}{l93}{770,838}{\beginR (ساموئل)\endR}
\lbl{aT}{l94}{810,750}{\beginR لقب یعقوب اسرائیل است\endR}
\lbl{aB,anchor=east}{l95}{1095,804}{180}
\lbl{aS,anchor=west}{l96}{1105,804}{\beginR به اشتباه اسحاق\endR}
\lbl{aS}{l97}{931,846}{\beginR به اشتباه یعقوب\endR}
\lbl{aS}{l98}{912,867}{\beginR 147 سال\endR}
\lbl{aM}{l99}{1546,806}{\beginR به اشتباه مدین\endR}
\node[font=\arabicfont\bfseries\fontsize{26}{28}\selectfont,text=black!85!red,inner sep=0pt] (l100) at (2104,718) {\beginR توجه:\endR};
\lbl{aS}{l101}{1882,754}{\beginR هیچکدام از سفر های یاد شده در زمان فرزندان نوح مدرک معتبر\endR}
\lbl{aS}{l102}{1916,775}{\beginR نداشته و فقط جنبه دینی دارند. و به عقیده اینجانب جعلی میباشند و مغایر با\endR}
\lbl{aS}{l103}{1860,797}{\beginR نوشته های دو تاریخ نویس بزرگ هورودت و طبری است\endR}
\lbl{aS}{l104}{1904,825}{\beginR به غیر از این سفر ها بقیه نام ها و توضیحات کاملأصحیح و تاریخی است\endR}
\lbl{aM,text=bluet,font=\arabictight\bfseries\fontsize{21}{23}\selectfont}{l105}{1908,860}{\beginR پیامبری به نام ذوالکفل در تاریخ وجود خارجی نداشته و\endR}
\lbl{aM,text=bluet,font=\arabictight\bfseries\fontsize{21}{23}\selectfont}{l106}{1840,887}{\beginR این نام لقبی برای اِزکیل(حزقیال) میباشد\endR}
\lbl{aM}{l107}{1962,932}{\beginR آیین تبلیغ شده توسط پیامبران پیش از موسی\endR}
\lbl{aM}{l108}{1881,958}{\beginR آیین یکتا پرستی بوده است\endR}
\lbl{aM,anchor=west}{l109}{1441,966}{\beginR به اشتباه\endR}
\lbl{aM,anchor=east}{l110}{1431,966}{\beginR رائول\endR}
\lbl{aM}{l111}{1438,1092}{\beginR به عربی أیوب\endR}
\lbl{aB}{l112}{1430,1116}{\beginR 140 سال\endR}
\lbl{aM}{l113}{1616,1017}{\beginR به اشتباه شعیب\endR}
\lbl{aB}{l114}{1614,1044}{\beginR 242 سال\endR}
\lbl{aT,anchor=west}{l115}{1545,1170}{\beginR به اشتباه\endR}
\lbl{aT,anchor=east}{l116}{1535,1170}{\beginR یسی\endR}
\lbl{aB}{l117}{1639,1205}{\beginR 100 سال\endR}
\lbl{aM,anchor=west}{l118}{1545,1235}{\beginR به اشتباه\endR}
\lbl{aM,anchor=east}{l119}{1535,1235}{\beginR داوود\endR}
\lbl{aB,anchor=west}{l120}{1547,1307}{\beginR 53 سال\endR}
\lbl{aS,anchor=east}{l121}{1535,1307}{\beginR سولومون یا سلیمان\endR}
\lbl{aM,text=black}{l122}{487,903}{\beginR به اشتباه صموئیل\endR}
\lbl{aT}{l123}{430,963}{\beginR به اشتباه عمران\endR}
\lbl{aM}{l124}{800,966}{\beginR به اشتباه لاوی\endR}
\lbl{aM,anchor=east}{l125}{1031,966}{\beginR سال\endR}
\lbl{aM,anchor=west}{l126}{1041,966}{120}
\lbl{aS}{l127}{789,1057}{\beginR خواهر مُشه و آرُن\endR}
\lbl{aS}{l128}{417,1063}{\beginR به اشتباه موسی و مُسِس\endR}
\lbl{aM}{l129}{403,1086}{\beginR 120 سال\endR}
\lbl{aS}{l130}{390,1108}{\beginR (موسی اولین پیامبر دین یهود است)\endR}
\lbl{aT,anchor=west}{l131}{621,1054}{\beginR به اشتباه\endR}
\lbl{aT,anchor=east}{l132}{612,1054}{\beginR هارون 123 سال\endR}
\lbl{aS}{l133}{352,1151}{\beginR داوید پسر یی شای، سردار\endR}
\lbl{aS}{l134}{315,1174}{\beginR سپاه طالوت بود\endR}
\lbl{aS}{l135}{361,1197}{\beginR و موفق به کشتن جُلیات شد.\endR}
\lbl{aM}{l136}{338,1221}{\beginR (جالوت)\endR}
\lbl{aT}{l137}{700,1204}{\beginR به اشتباه حزقیال یا ذوالکفل\endR}
\lbl{aS}{l138}{711,1219}{\beginR 52 سال\endR}
\lbl{aM}{l139}{437,1308}{\beginR 22سال + عروج به اسمان\endR}
\lbl{aS}{l140}{621,1308}{\beginR به اشتباه الیسع 75 سال\endR}
\lbl{aM}{l141}{1037,1187}{\beginR به اشتباه یوشع بن نون\endR}
\lbl{aM}{l142}{802,1273}{\beginR جانشین موسی\endR}
\lbl{aM,anchor=west}{l143}{1293,1052}{\beginR به اشتباه\endR}
\lbl{aM,anchor=east}{l144}{1283,1052}{\beginR بارز یا فارض\endR}
\lbl{aM,anchor=west}{l145}{1293,1118}{\beginR به اشتباه\endR}
\lbl{aM,anchor=east}{l146}{1283,1118}{\beginR حصرون\endR}
\lbl{aM,anchor=west}{l147}{1293,1248}{\beginR به اشتباه\endR}
\lbl{aM,anchor=east}{l148}{1283,1248}{\beginR عومِنضیاب\endR}
\lbl{aM,anchor=west}{l149}{1293,1311}{\beginR به اشتباه\endR}
\lbl{aM,anchor=east}{l150}{1283,1311}{\beginR نَحشون\endR}
\lbl{aM,anchor=west}{l151}{1293,1376}{\beginR به اشتباه\endR}
\lbl{aM,anchor=east}{l152}{1283,1376}{\beginR سلمون\endR}
\lbl{aM,anchor=west}{l153}{1293,1445}{\beginR به اشتباه\endR}
\lbl{aM,anchor=east}{l154}{1283,1445}{\beginR بَعزیا بوعز\endR}
\lbl{aM,anchor=west}{l155}{1293,1511}{\beginR به اشتباه\endR}
\lbl{aS,anchor=east}{l156}{1283,1511}{\beginR عوبید\endR}
\lbl{aT,anchor=west}{l157}{1471,1398}{\beginR به اشتباه\endR}
\lbl{aT,anchor=east}{l158}{1463,1398}{\beginR حضکیه\endR}
\lbl{aM,anchor=west}{l159}{1602,1403}{\beginR به عربی\endR}
\lbl{aM,anchor=east}{l160}{1594,1403}{\beginR زکریا\endR}
\lbl{aB,anchor=west}{l161}{1602,1428}{115}
\lbl{aB,anchor=east}{l162}{1594,1428}{\beginR سال\endR}
\lbl{aM,anchor=west}{l163}{1779,1403}{\beginR به اشتباه\endR}
\lbl{aM,anchor=east}{l164}{1771,1403}{\beginR متاع\endR}
\lbl{aM}{l165}{1607,1502}{\beginR به اشتباه یحیی\endR}
\lbl{aM}{l166}{1617,1530}{\beginR به انگلیسی جان\endR}
\lbl{aB}{l167}{1611,1552}{\beginR 30 سال\endR}
\lbl{aM}{l168}{1773,1502}{\beginR به اشتباه یونس\endR}
\lbl{aB}{l169}{1774,1527}{\beginR 40 سال\endR}
\lbl{aM,anchor=west}{l170}{1471,1524}{\beginR به عربی\endR}
\lbl{aM,anchor=east}{l171}{1463,1524}{\beginR مریم\endR}
\lbl{aM,anchor=west}{l172}{1471,1550}{\beginR به انگلیسی\endR}
\lbl{aM,anchor=east}{l173}{1463,1550}{\beginR مری\endR}
\lbl{aM,anchor=east}{l174}{1515,1620}{\beginR عربی: عیسی\endR}
\lbl{aM,anchor=east}{l175}{1515,1648}{\beginR یونانی: یِسس\endR}
\lbl{aM,anchor=east}{l176}{1515,1676}{\beginR اسپانیایی: خِسس\endR}
\lbl{aM,anchor=east}{l177}{1515,1704}{\beginR انگلیسی:جیسس\endR}
\lbl{aB,anchor=east}{l178}{1589,1731}{\beginR 33 سال + عروج به آسمان\endR}
\lbl{aB}{l179}{1184,1712}{\beginR 63 سال\endR}
\lbl{aS}{l180}{994,1713}{\beginR (محمد اولین پیامبر اسلام و آخرین پیامبر است)\endR}
\lbl{aS}{l181}{976,1752}{\beginR او هم نام یوشع بن نون است و برای ایجاد وجه تمایز او را عیسی خواندند\endR}
% ---------- red arrows ----------
\draw[rarr] (58,243) -- (46,430);
\draw[rarr] (220,313) -- (283,448);
\draw[rarr] (186,394) -- (191,418);
\draw[rarr] (663,338) -- (1040,338) to[out=0,in=115] (1079,360);
\draw[rarr] (663,374) -- (968,376);
\draw[rarr] (1150,316) to[out=0,in=92] (1172,362);
\draw[rarr] (1222,298) -- (1261,360);
\draw[rarr] (1281,438) -- (1341,402);
\draw[rarr] (1440,425) -- (1458,398);
\draw[rarr] (1561,469) to[out=5,in=-80] (1566,400);
\draw[rarr] (1681,356) -- (1656,307);
\draw[rarr] (1888,361) -- (1944,197);
\draw[rarr] (1987,358) -- (2007,312);
\draw[rarr] (1771,407) .. controls (1845,490) and (1872,600) .. (1879,718);
\draw[rarr] (869,457) -- (841,457);
\draw[rarr] (1079,486) -- (1110,478);
\draw[rarr] (610,480) -- (610,507);
\draw[rarr] (895,752) .. controls (935,748) .. (955,795);
\draw[rarr] (541,855) -- (645,818);
\draw[rarr] (796,1257) .. controls (820,1180) and (870,1150) .. (938,1150);
\draw[rarr] (1210,1762) .. controls (1290,1762) and (1320,1722) .. (1371,1682);
% ---------- legend ----------
\node[draw=black,line width=2pt,minimum width=362pt,minimum height=132pt,inner sep=0pt] (legend) at (1944,1690) {};
\foreach \y/\c in {1660/black,1695/greenc,1733/pinkc}{
 \draw[\c,line width=2.2pt] (2107,\y) -- (2114,\y);
 \draw[\c,line width=2.2pt] (2063,\y) -- (2098,\y);
 \draw[\c,line width=2.2pt] (2013,\y) -- (2052,\y);
}
\node[font=\arabictight\bfseries\fontsize{22}{24}\selectfont,text=black,inner sep=0pt,anchor=east] (lg1) at (1999,1660) {\beginR فرزند حقیقی\endR};
\node[font=\arabictight\bfseries\fontsize{22}{24}\selectfont,text=greenc,inner sep=0pt,anchor=east] (lg2) at (2001,1695) {\beginR جانشینی(بدون نسبت فامیلی)\endR};
\node[font=\arabictight\bfseries\fontsize{22}{24}\selectfont,text=pinkc,inner sep=0pt,anchor=east] (lg3) at (2006,1733) {\beginR نوادگان(اصل و نسب)\endR};
\end{tikzpicture}
\end{document}
